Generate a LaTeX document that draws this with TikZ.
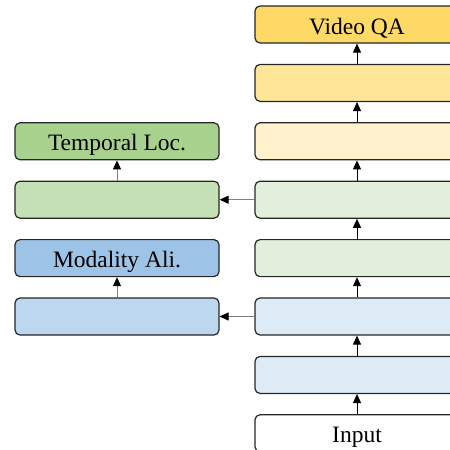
\documentclass[tikz,border=0pt]{standalone}
\usepackage{fontspec}
\setmainfont{Liberation Serif}
\newfontfamily\tnr{Liberation Serif}
\usetikzlibrary{arrows.meta}
\definecolor{qa1}{HTML}{FFD966}
\definecolor{qa2}{HTML}{FFE699}
\definecolor{qa3}{HTML}{FFF2CC}
\definecolor{gr1}{HTML}{E2EFDA}
\definecolor{bl1}{HTML}{DDEBF7}
\definecolor{tl}{HTML}{A9D18E}
\definecolor{tl2}{HTML}{C5E0B4}
\definecolor{ma}{HTML}{9DC3E6}
\definecolor{ma2}{HTML}{BDD7EE}
\tikzset{
  blk/.style={draw=black!85, line width=1.2pt, rounded corners=5pt,
    minimum width=204pt, minimum height=37pt, inner sep=0pt,
    text height=19pt, text depth=0pt,
    font=\tnr\fontsize{23.5}{27}\selectfont},
  upar/.style={line width=1pt, -{Triangle[length=9pt,width=8pt]}},
  grar/.style={draw=black!50, line width=1pt, -{Triangle[length=9pt,width=8pt,color=black]}}
}
\begin{document}
\begin{tikzpicture}[x=1pt,y=-1pt]
\useasboundingbox (0,0) rectangle (450,450);
\clip (0,0) rectangle (450,450);
% right column
\node[blk, fill=qa1] (r0) at (357,24.5) {Video QA};
\node[blk, fill=qa2] (r1) at (357,82.9) {};
\node[blk, fill=qa3] (r2) at (357,141.3) {};
\node[blk, fill=gr1] (r3) at (357,199.7) {};
\node[blk, fill=gr1] (r4) at (357,258.1) {};
\node[blk, fill=bl1] (r5) at (357,316.5) {};
\node[blk, fill=bl1] (r6) at (357,374.9) {};
\node[blk, fill=white] (r7) at (357,433.3) {Input};
% left column
\node[blk, fill=tl] (l0) at (117,141.3) {Temporal Loc.};
\node[blk, fill=tl2] (l1) at (117,199.7) {};
\node[blk, fill=ma] (l2) at (117,258.1) {Modality Ali.};
\node[blk, fill=ma2] (l3) at (117,316.5) {};
% vertical arrows
\foreach \a/\b in {r1/r0,r2/r1,r3/r2,r4/r3,r5/r4,r6/r5,r7/r6}
  \draw[upar] (\a.north) -- (\b.south);
\draw[grar] (l1.north) -- (l0.south);
\draw[grar] (l3.north) -- (l2.south);
% horizontal arrows
\draw[grar] (r3.west) -- (l1.east);
\draw[grar] (r5.west) -- (l3.east);
\end{tikzpicture}
\end{document}
